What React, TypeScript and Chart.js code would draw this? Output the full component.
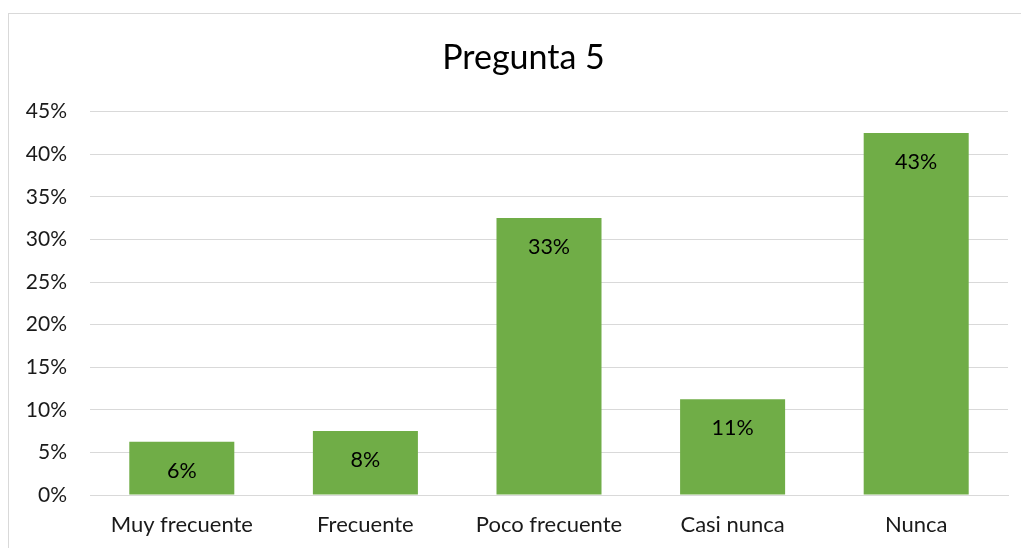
import React, { useEffect, useRef } from "react";
import { Chart, registerables } from "chart.js";

Chart.register(...registerables);

const TITLE = "Pregunta 5";
const categories = ["Muy frecuente", "Frecuente", "Poco frecuente", "Casi nunca", "Nunca"];
const values = [0.0625, 0.075, 0.325, 0.1125, 0.425];
const valueLabels = ["6%", "8%", "33%", "11%", "43%"];
const yTicks = [0, 0.05, 0.1, 0.15, 0.2, 0.25, 0.3, 0.35, 0.4, 0.45];

const FONT = "Lato, 'Noto Sans', sans-serif";

const labelPlugin = {
  id: "insideEndLabels",
  afterDatasetsDraw(chart: any) {
    const ctx = chart.ctx;
    const meta = chart.getDatasetMeta(0);
    ctx.save();
    ctx.font = `21.5px ${FONT}`;
    ctx.fillStyle = "#000000";
    ctx.textAlign = "center";
    ctx.textBaseline = "middle";
    meta.data.forEach((el: any, i: number) => {
      ctx.fillText(valueLabels[i], el.x, el.y + 29);
    });
    ctx.restore();
  },
};

const titlePlugin = {
  id: "offsetTitle",
  afterDraw(chart: any) {
    const ctx = chart.ctx;
    ctx.save();
    ctx.font = `34px ${FONT}`;
    ctx.fillStyle = "#000000";
    ctx.textAlign = "center";
    ctx.textBaseline = "middle";
    ctx.fillText(TITLE, 514.5, 44);
    ctx.restore();
  },
};

export default function App() {
  const ref = useRef<HTMLCanvasElement>(null);
  useEffect(() => {
    if (!ref.current) return;
    const chart = new Chart(ref.current, {
      type: "bar",
      data: {
        labels: categories,
        datasets: [
          {
            data: values,
            backgroundColor: "#70AD47",
            borderWidth: 0,
            categoryPercentage: 1,
            barPercentage: 0.572,
          },
        ],
      },
      options: {
        animation: false,
        responsive: false,
        maintainAspectRatio: false,
        layout: { padding: { left: 0, right: 13, top: 97.6, bottom: 0 } },
        plugins: {
          legend: { display: false },
          tooltip: { enabled: false },
          title: { display: false },
        },
        scales: {
          x: {
            grid: { display: false, drawTicks: false },
            border: { display: true, color: "#d9d9d9", width: 1 },
            ticks: {
              color: "#1a1a1a",
              font: { family: FONT, size: 22 },
              padding: 17,
              maxRotation: 0,
              autoSkip: false,
            },
            afterFit(scale: any) {
              scale.height = 53;
            },
          },
          y: {
            min: 0,
            max: 0.45,
            afterBuildTicks(scale: any) {
              scale.ticks = yTicks.map((v) => ({ value: v }));
            },
            grid: { color: "#d9d9d9", lineWidth: 1, drawTicks: false },
            border: { display: false },
            ticks: {
              color: "#1a1a1a",
              font: { family: FONT, size: 21 },
              padding: 23,
              callback: (v: any) => `${Math.round(Number(v) * 100)}%`,
            },
            afterFit(scale: any) {
              scale.width = 81;
            },
          },
        },
      },
      plugins: [labelPlugin, titlePlugin],
    });
    return () => chart.destroy();
  }, []);

  return (
    <div
      style={{
        position: "absolute",
        left: 8,
        top: 13,
        width: 1020,
        height: 540,
        borderLeft: "1px solid #d9d9d9",
        borderTop: "1px solid #d9d9d9",
        borderRight: "1px solid #d9d9d9",
        background: "#fff",
      }}
    >
      <canvas ref={ref} width={1012} height={534} style={{ display: "block" }} />
    </div>
  );
}
